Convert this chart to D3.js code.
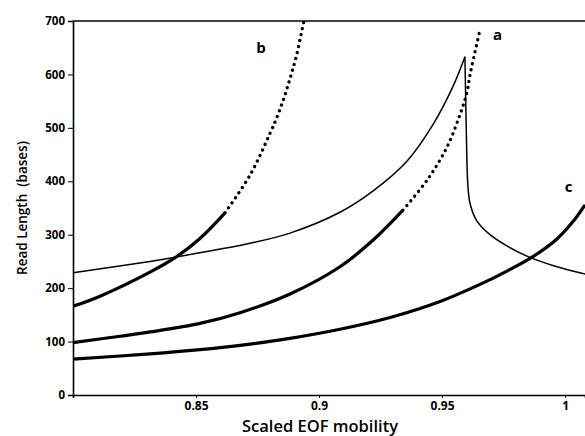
<!DOCTYPE html>
<html>
<head>
<meta charset="utf-8">
<script src="https://cdn.jsdelivr.net/npm/d3@7/dist/d3.min.js"></script>
<style>
  html, body { margin: 0; padding: 0; background: #fff; }
  svg { display: block; }
  .tick text { font-family: "Open Sans", "DejaVu Sans", sans-serif; font-weight: 700; fill: #000; }
</style>
</head>
<body>
<svg id="chart" width="585" height="436"></svg>
<script>
// Read length vs scaled EOF mobility for three separation conditions (a, b, c)
// plus the thin reference curve with its cusp near 0.96.

// Curve a
const mobilityA = [0.8, 0.8191, 0.8313, 0.8516, 0.8679, 0.8882, 0.9085, 0.9220, 0.9341,
                   0.9439, 0.9520, 0.9573, 0.9602, 0.9614, 0.9634, 0.9654];
const lengthA   = [98, 110, 118, 134, 154, 189, 240, 290, 346,
                   402, 464, 525, 568, 600, 642, 683];
const splitA = 0.9341; // solid up to here, dotted beyond

// Curve b
const mobilityB = [0.8, 0.811, 0.8313, 0.8415, 0.8516, 0.8618,
                   0.8720, 0.8801, 0.8829, 0.8850, 0.8870, 0.8890, 0.8911, 0.8927, 0.8939];
const lengthB   = [166, 185, 230, 257, 293, 341,
                   412, 490, 520, 546, 574, 605, 640, 675, 700];
const splitB = 0.8618;

// Curve c
const mobilityC = [0.8, 0.8313, 0.8516, 0.8679, 0.8882, 0.9085, 0.9289, 0.9492,
                   0.9654, 0.9764, 0.9866, 0.9967, 1.0033, 1.0081];
const lengthC   = [67, 77, 85, 93, 106, 123, 145, 175,
                   207, 232, 258, 292, 325, 356];

// Thin curve: rising branch up to the cusp, then the falling branch
const mobilityRise = [0.8, 0.8313, 0.8415, 0.8720, 0.8882, 0.9085, 0.9220, 0.9358, 0.9463, 0.9545, 0.9593];
const lengthRise   = [229, 250, 258, 284, 303, 342, 382, 438, 506, 578, 633];
const mobilityFall = [0.9593, 0.9597, 0.9601, 0.9605, 0.9614, 0.9640, 0.9690, 0.9760, 0.9850, 0.9960, 1.0085];
const lengthFall   = [633, 530, 440, 392, 358, 327, 302, 280, 259, 241, 226];

const yTicks = [0, 100, 200, 300, 400, 500, 600, 700];
const xTicks = [0.85, 0.9, 0.95, 1];
const curveLabels = ["a", "b", "c"];

const svg = d3.select("#chart");
const margin = { left: 73, right: 0, top: 21, bottom: 41 };
const W = 585, H = 436;

const x = d3.scaleLinear().domain([0.8, 1.0081]).range([margin.left, W - margin.right]);
const y = d3.scaleLinear().domain([0, 700]).range([H - margin.bottom, margin.top]);

const zip = (xs, ys) => xs.map((v, i) => [v, ys[i]]);
const line = d3.line().x(d => x(d[0])).y(d => y(d[1])).curve(d3.curveCatmullRom.alpha(0.5));

svg.append("clipPath").attr("id", "clip")
  .append("rect").attr("x", margin.left).attr("y", margin.top - 2)
  .attr("width", W - margin.left).attr("height", H - margin.bottom - margin.top + 2);
const plot = svg.append("g").attr("clip-path", "url(#clip)");

function drawSplit(xs, ys, split) {
  const pts = zip(xs, ys);
  const solid = pts.filter(p => p[0] <= split);
  const dotted = pts.filter(p => p[0] >= split);
  plot.append("path").attr("d", line(solid))
    .attr("fill", "none").attr("stroke", "#000").attr("stroke-width", 3.2);
  plot.append("path").attr("d", line(dotted))
    .attr("fill", "none").attr("stroke", "#000").attr("stroke-width", 3.3)
    .attr("stroke-linecap", "round").attr("stroke-dasharray", "0.1 6");
}

// thin curve
plot.append("path").attr("d", line(zip(mobilityRise, lengthRise)))
  .attr("fill", "none").attr("stroke", "#000").attr("stroke-width", 1.5);
plot.append("path").attr("d", line(zip(mobilityFall, lengthFall)))
  .attr("fill", "none").attr("stroke", "#000").attr("stroke-width", 1.5);

drawSplit(mobilityA, lengthA, splitA);
drawSplit(mobilityB, lengthB, splitB);
plot.append("path").attr("d", line(zip(mobilityC, lengthC)))
  .attr("fill", "none").attr("stroke", "#000").attr("stroke-width", 3.2);

// axes
const yAxis = d3.axisLeft(y).tickValues(yTicks).tickSize(5).tickPadding(3).tickFormat(d3.format("d"));
const gy = svg.append("g").attr("transform", `translate(${margin.left},0)`).call(yAxis);
gy.select(".domain").attr("stroke-width", 1.6);
gy.selectAll(".tick text").attr("font-size", 11.5);

const xAxis = d3.axisBottom(x).tickValues(xTicks).tickSize(3).tickPadding(3).tickFormat(d => String(d));
const gx = svg.append("g").attr("transform", `translate(0,${H - margin.bottom})`).call(xAxis);
gx.select(".domain").attr("stroke-width", 1.6);
gx.selectAll(".tick text").attr("font-size", 12);

// top frame line
svg.append("line").attr("x1", margin.left).attr("x2", W).attr("y1", margin.top).attr("y2", margin.top)
  .attr("stroke", "#000").attr("stroke-width", 1.4);

// axis titles
const titleFont = "\"Open Sans\", \"DejaVu Sans\", sans-serif";
svg.append("text").attr("x", 320).attr("y", 432)
  .attr("text-anchor", "middle").attr("font-family", titleFont).attr("font-weight", 600)
  .attr("font-size", 16.5).text("Scaled EOF mobility");
svg.append("text").attr("transform", `translate(27,${(margin.top + H - margin.bottom) / 2}) rotate(-90)`)
  .attr("text-anchor", "middle").attr("font-family", titleFont).attr("font-weight", 600)
  .attr("font-size", 13.5).style("white-space", "pre").text("Read Length  (bases)");

// curve labels
const labelPos = [[0.9725, 665], [0.8764, 640], [1.0014, 380]];
svg.selectAll(".clabel").data(curveLabels).join("text").attr("class", "clabel")
  .attr("x", (d, i) => x(labelPos[i][0])).attr("y", (d, i) => y(labelPos[i][1]))
  .attr("text-anchor", "middle").attr("font-family", titleFont).attr("font-weight", 700)
  .attr("font-size", 15).text(d => d);
</script>
</body>
</html>
